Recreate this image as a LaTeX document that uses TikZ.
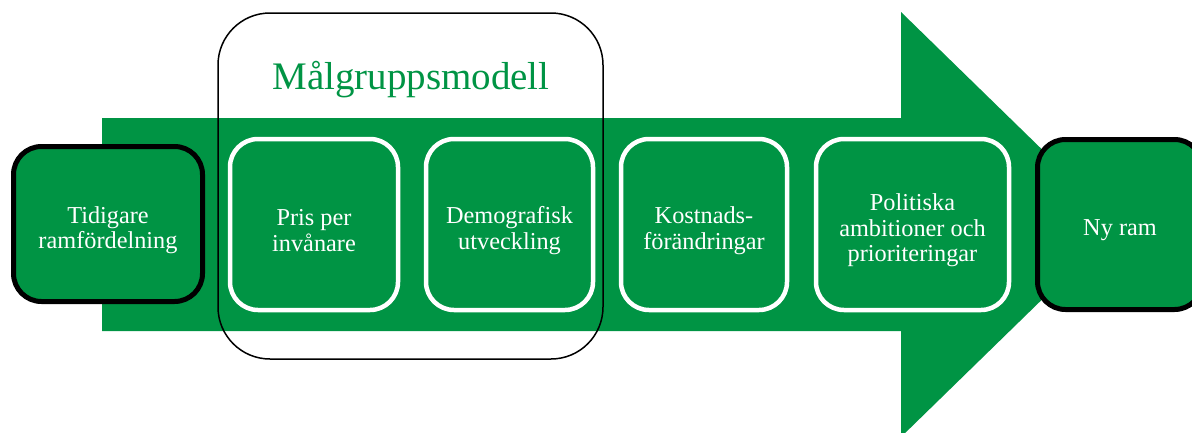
\documentclass[tikz,border=0pt]{standalone}
\usepackage{fontspec}
\setmainfont{Liberation Serif}
\definecolor{grn}{HTML}{009444}
\begin{document}
\begin{tikzpicture}[x=1pt,y=-1pt,
  boxtext/.style={text=white, align=center, inner sep=0pt, font=\fontsize{24.3}{25.5}\selectfont},
  stagebox/.style={draw=white, line width=4.5pt, fill=grn, rounded corners=28pt,
    minimum width=#1, minimum height=171pt, inner sep=0pt},
  endbox/.style={draw=black, line width=5pt, fill=grn, rounded corners=28pt, inner sep=0pt},
  inside/.style={label={[boxtext, yshift=-6pt]center:#1}},
  groupframe/.style={draw=black, line width=1.5pt, rounded corners=52pt,
    minimum width=385pt, minimum height=346pt, inner sep=0pt},
  titletext/.style={text=grn, font=\fontsize{39}{45}\selectfont, inner sep=0pt}]
\useasboundingbox (0,0) rectangle (1192,432);
\clip (0,0) rectangle (1192,432);
% big arrow
\fill[grn] (102,118) -- (901,118) -- (901,12) -- (1119,224.5) -- (901,437)
  -- (901,331) -- (102,331) -- cycle;
% group frame
\node[groupframe] (grp) at (410.5,186) {};
\node[titletext, anchor=base] (title) at (411,89) {Målgruppsmodell};
% boxes
\node[endbox, minimum width=189pt, minimum height=155pt,
  inside={Tidigare\\ramfördelning}] (prev) at (108,224) {};
\node[stagebox=168pt, inside={Pris per\\invånare}] (pris) at (314,224.5) {};
\node[stagebox=167pt, inside={Demografisk\\utveckling}] (demo) at (509.5,224.5) {};
\node[stagebox=166pt, inside={Kostnads-\\förändringar}] (kost) at (704,224.5) {};
\node[stagebox=193pt, inside={Politiska\\ambitioner och\\prioriteringar}] (pol) at (912.5,224.5) {};
\node[endbox, minimum width=165pt, minimum height=170pt, inside={Ny ram}] (ny) at (1120,224.5) {};
\end{tikzpicture}
\end{document}
